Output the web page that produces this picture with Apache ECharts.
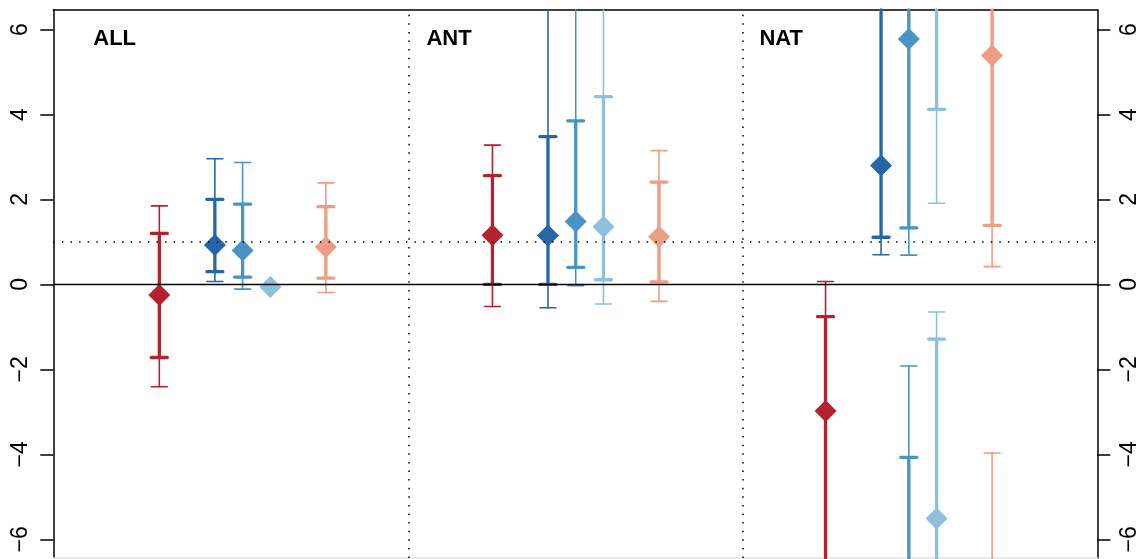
<!DOCTYPE html>
<html><head><meta charset="utf-8">
<script src="https://cdn.jsdelivr.net/npm/echarts@6/dist/echarts.min.js"></script>
<style>html,body{margin:0;padding:0;background:#fff}#c{width:1142px;height:559px}</style>
</head><body><div id="c"></div><script>
// ---- data ----
const groups = ['ALL', 'ANT', 'NAT'];
const groupX = [0, 12, 24];
const seriesOffset = [0, 2, 3, 4, 6];
const dividers = [9, 21];
const yTicks = [-6, -4, -2, 0, 2, 4, 6];
const refSolid = 0;
const refDotted = 1;
const INF = Infinity;

const redBest    = [-0.25, 1.16, -2.98];
const redOuterLo = [-2.41, -0.52, -INF];
const redInnerLo = [-1.72, 0.00, -INF];
const redInnerHi = [1.20, 2.56, -0.76];
const redOuterHi = [1.85, 3.28, 0.07];

const darkBest    = [0.93, 1.15, 2.80];
const darkOuterLo = [0.07, -0.55, 0.70];
const darkInnerLo = [0.30, 0.00, 1.11];
const darkInnerHi = [2.00, 3.48, INF];
const darkOuterHi = [2.96, INF, INF];

const medBest    = [0.80, 1.48, 5.78];
const medOuterLo = [-0.11, -0.03, 0.69];
const medInnerLo = [0.17, 0.40, 1.33];
const medInnerHi = [1.89, 3.85, -4.07];
const medOuterHi = [2.87, INF, -1.92];

const lightBest    = [-0.06, 1.36, -5.51];
const lightOuterLo = [null, -0.46, 1.91];
const lightInnerLo = [null, 0.11, 4.12];
const lightInnerHi = [null, 4.42, -1.29];
const lightOuterHi = [null, INF, -0.65];

const salBest    = [0.88, 1.12, 5.39];
const salOuterLo = [-0.19, -0.40, 0.42];
const salInnerLo = [0.15, 0.06, 1.39];
const salInnerHi = [1.83, 2.41, -INF];
const salOuterHi = [2.39, 3.15, -3.97];

// ---- styling ----
const colors = ['#b3222e', '#2566a8', '#4a94c5', '#8dbfdf', '#ee9c84'];
const seriesData = [
  [redBest, redOuterLo, redInnerLo, redInnerHi, redOuterHi],
  [darkBest, darkOuterLo, darkInnerLo, darkInnerHi, darkOuterHi],
  [medBest, medOuterLo, medInnerLo, medInnerHi, medOuterHi],
  [lightBest, lightOuterLo, lightInnerLo, lightInnerHi, lightOuterHi],
  [salBest, salOuterLo, salInnerLo, salInnerHi, salOuterHi]
];
const xMin = -3.82, xMax = 33.79;
const yMin = -6.44, yMax = 6.46;
const labelDx = -2.38, labelY = 5.77;
const FONT = '"Liberation Sans", Arial, Helvetica, sans-serif';

function segs(lo, hi) {
  if (lo == null || hi == null) return [];
  if (lo <= hi) return [[lo, hi]];
  return [[lo, INF], [-INF, hi]];
}
function clamp(v) { return Math.max(yMin, Math.min(yMax, v)); }
function inRange(v) { return isFinite(v) && v >= yMin && v <= yMax; }

const series = [];
// reference lines
series.push({
  type: 'line', data: [], z: 1, silent: true,
  markLine: {
    silent: true, symbol: ['none', 'none'], label: { show: false },
    animation: false,
    data: [
      { yAxis: refSolid, lineStyle: { color: '#000', width: 1.4, type: 'solid' } },
      { yAxis: refDotted, lineStyle: { color: '#000', width: 1.5, type: [1.5, 7.1] } },
      ...dividers.map(d => ({ xAxis: d, lineStyle: { color: '#000', width: 1.5, type: [1.5, 7.1] } }))
    ]
  }
});

seriesData.forEach((arr, s) => {
  const [best, oLo, iLo, iHi, oHi] = arr;
  const col = colors[s];
  series.push({
    type: 'custom', z: 2, silent: true, animation: false,
    data: groups.map((g, i) => [groupX[i] + seriesOffset[s], best[i]]),
    renderItem: function (params, api) {
      const i = params.dataIndex;
      const x = api.value(0);
      const children = [];
      const addLine = (a, b, w) => {
        const p1 = api.coord([x, clamp(a)]), p2 = api.coord([x, clamp(b)]);
        if (Math.abs(p1[1] - p2[1]) < 0.01) return;
        children.push({ type: 'line', shape: { x1: p1[0], y1: p1[1], x2: p2[0], y2: p2[1] },
          style: { stroke: col, lineWidth: w, lineCap: 'round' } });
      };
      const addCap = (v, w) => {
        if (!inRange(v)) return;
        const p = api.coord([x, v]);
        children.push({ type: 'line', shape: { x1: p[0] - 8, y1: p[1], x2: p[0] + 8, y2: p[1] },
          style: { stroke: col, lineWidth: w, lineCap: 'round' } });
      };
      segs(oLo[i], oHi[i]).forEach(sg => addLine(sg[0], sg[1], 1.6));
      if (oLo[i] != null) { addCap(oLo[i], 1.6); addCap(oHi[i], 1.6); }
      segs(iLo[i], iHi[i]).forEach(sg => addLine(sg[0], sg[1], 3.3));
      if (iLo[i] != null) { addCap(iLo[i], 3.3); addCap(iHi[i], 3.3); }
      return { type: 'group', children };
    }
  });
});

seriesData.forEach((arr, s) => {
  const best = arr[0];
  series.push({
    type: 'scatter', z: 3, silent: true, animation: false,
    symbol: 'diamond', symbolSize: 22,
    itemStyle: { color: colors[s], opacity: 1 },
    data: groups.map((g, i) => [groupX[i] + seriesOffset[s], best[i]]).filter(d => d[1] != null)
  });
});

// panel labels
series.push({
  type: 'custom', z: 4, silent: true, animation: false,
  data: groups.map((g, i) => [groupX[i] + labelDx, labelY]),
  renderItem: function (params, api) {
    const p = api.coord([api.value(0), api.value(1)]);
    return { type: 'text', x: p[0], y: p[1],
      style: { text: groups[params.dataIndex], fill: '#000', font: 'bold 22px ' + FONT,
        align: 'left', verticalAlign: 'middle' } };
  }
});

const fmt = v => String(v).replace('-', '\u2212');
function yAx(pos) {
  return {
    type: 'value', min: yMin, max: yMax, position: pos,
    axisLine: { show: true, onZero: false, lineStyle: { color: '#000', width: 1.5 } },
    axisTick: { show: true, length: 13, customValues: yTicks, lineStyle: { color: '#000', width: 1.5 } },
    axisLabel: { show: true, customValues: yTicks, rotate: 90, margin: 21, fontSize: 23,
      fontFamily: FONT, color: '#000', formatter: fmt },
    splitLine: { show: false }
  };
}
function xAx(pos, color) {
  return {
    type: 'value', min: xMin, max: xMax, position: pos,
    axisLine: { show: true, onZero: false, lineStyle: { color: color, width: 1.5 } },
    axisTick: { show: false }, axisLabel: { show: false }, splitLine: { show: false }
  };
}

const chart = echarts.init(document.getElementById('c'), null, { renderer: 'canvas' });
chart.setOption({
  animation: false,
  backgroundColor: '#fff',
  grid: { left: 53.3, right: 44.7, top: 10, bottom: 1, containLabel: false },
  xAxis: [xAx('bottom', '#e2e2e2'), xAx('top', '#000')],
  yAxis: [yAx('left'), yAx('right')],
  series: series
});
</script></body></html>
